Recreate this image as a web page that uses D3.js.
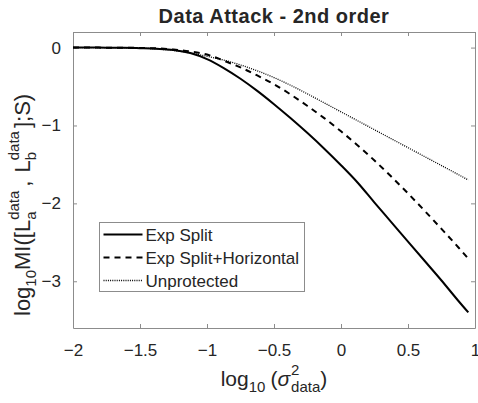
<!DOCTYPE html>
<html>
<head>
<meta charset="utf-8">
<script src="https://cdn.jsdelivr.net/npm/d3@7"></script>
<style>
  body { margin: 0; background: #fff; }
  text { font-family: "Liberation Sans", Arial, sans-serif; fill: #262626; }
</style>
</head>
<body>
<svg></svg>
<script>
var width = 478;
var height = 403;

// values
var sigmaLog = [-2, -1.875, -1.75, -1.625, -1.5, -1.375, -1.25, -1.125, -1, -0.875, -0.75, -0.625, -0.5,
  -0.375, -0.25, -0.125, 0, 0.125, 0.25, 0.375, 0.5, 0.625, 0.75, 0.875, 0.95];
var expSplit = [0, 0, -0.001, -0.003, -0.008, -0.015, -0.03, -0.07, -0.148, -0.263, -0.40, -0.556, -0.727,
  -0.908, -1.098, -1.298, -1.51, -1.735, -1.99, -2.24, -2.49, -2.74, -2.99, -3.25, -3.40];
var expSplitHoriz = [0, 0, -0.001, -0.002, -0.005, -0.01, -0.025, -0.05, -0.09, -0.168, -0.255, -0.358, -0.47,
  -0.603, -0.75, -0.906, -1.075, -1.256, -1.45, -1.656, -1.872, -2.097, -2.328, -2.563, -2.71];
var unprotected = [0, 0, -0.001, -0.002, -0.006, -0.018, -0.038, -0.068, -0.112, -0.16, -0.223, -0.298, -0.385,
  -0.485, -0.595, -0.71, -0.825, -0.94, -1.055, -1.17, -1.285, -1.40, -1.515, -1.63, -1.70];
var seriesNames = ['Exp Split', 'Exp Split+Horizontal', 'Unprotected'];
var xTicks = [-2, -1.5, -1, -0.5, 0, 0.5, 1];
var yTicks = [0, -1, -2, -3];

var margin = {top: 32, right: 3, bottom: 75, left: 73};
var w = width - margin.left - margin.right;
var h = height - margin.top - margin.bottom;

var svg = d3.select('svg')
  .attr('width', width)
  .attr('height', height);

var x = d3.scaleLinear().domain([-2, 1]).range([0, w]);
var y = d3.scaleLinear().domain([-3.6, 0.2]).range([h, 0]);

var g = svg.append('g')
  .attr('transform', 'translate(' + margin.left + ',' + margin.top + ')');

var axisColor = '#8c8c8c';

// axes with inward ticks, also on top and right (box on)
var xb = g.append('g').attr('transform', 'translate(0,' + h + ')')
  .call(d3.axisBottom(x).tickValues(xTicks).tickSizeInner(-4).tickSizeOuter(0).tickPadding(16).tickFormat(d3.format('')));
var xt = g.append('g')
  .call(d3.axisTop(x).tickValues(xTicks).tickSizeInner(-4).tickSizeOuter(0).tickFormat(''));
var yl = g.append('g')
  .call(d3.axisLeft(y).tickValues(yTicks).tickSizeInner(-4).tickSizeOuter(0).tickPadding(12).tickFormat(d3.format('')));
var yr = g.append('g').attr('transform', 'translate(' + w + ',0)')
  .call(d3.axisRight(y).tickValues(yTicks).tickSizeInner(-4).tickSizeOuter(0).tickFormat(''));

[xb, xt, yl, yr].forEach(function(a) {
  a.select('.domain').attr('stroke', axisColor);
  a.selectAll('.tick line').attr('stroke', axisColor);
  a.selectAll('.tick text').attr('font-size', 17).attr('fill', '#262626')
    .style('font-family', '"Liberation Sans", Arial, sans-serif');
});
xb.selectAll('.tick text').attr('dy', '0.71em');

var styles = [
  {dash: null, w: 2},
  {dash: '6,5', w: 2},
  {dash: '1,1.2', w: 1.3}
];
var allSeries = [expSplit, expSplitHoriz, unprotected];

var line = d3.line()
  .x(function(d) { return x(d[0]); })
  .y(function(d) { return y(d[1]); })
  .curve(d3.curveMonotoneX);

allSeries.forEach(function(vals, i) {
  g.append('path')
    .datum(sigmaLog.map(function(s, j) { return [s, vals[j]]; }))
    .attr('fill', 'none')
    .attr('stroke', '#000')
    .attr('stroke-width', styles[i].w)
    .attr('stroke-dasharray', styles[i].dash)
    .attr('d', line);
});

// legend
var leg = svg.append('g').attr('transform', 'translate(99.5,222.5)');
leg.append('rect')
  .attr('width', 205).attr('height', 69)
  .attr('fill', '#fff').attr('stroke', axisColor);
seriesNames.forEach(function(name, i) {
  var ly = 12 + i * 23;
  leg.append('line')
    .attr('x1', 4).attr('x2', 43).attr('y1', ly).attr('y2', ly)
    .attr('stroke', '#000')
    .attr('stroke-width', styles[i].w)
    .attr('stroke-dasharray', styles[i].dash);
  leg.append('text')
    .attr('x', 46).attr('y', ly + 6)
    .attr('font-size', 17)
    .text(name);
});

// text with sub/superscripts, parts laid out left to right
function rich(parent, parts, big, small) {
  var cx = 0;
  parts.forEach(function(p) {
    if (p.stack) {
      var a = parent.append('text').attr('x', cx).attr('y', 6).attr('font-size', small).text(p.sub);
      var b = parent.append('text').attr('x', cx).attr('y', -11).attr('font-size', small).text(p.sup);
      cx += Math.max(a.node().getComputedTextLength(), b.node().getComputedTextLength()) + (p.gap || 0);
    } else {
      var t = parent.append('text').attr('x', cx)
        .attr('y', p.sub ? 6 : 0)
        .attr('font-size', p.sub ? small : big)
        .attr('font-style', p.italic ? 'italic' : null)
        .text(p.t);
      cx += t.node().getComputedTextLength() + (p.gap || 0);
    }
  });
  return cx;
}

// title
svg.append('text')
  .attr('x', margin.left + w / 2).attr('y', 23)
  .attr('text-anchor', 'middle')
  .attr('font-size', 20).attr('font-weight', 'bold')
  .style('letter-spacing', '0.5px')
  .attr('fill', '#000')
  .text('Data Attack - 2nd order');

// x label
var xl = svg.append('g');
var xw = rich(xl, [
  {t: 'log'}, {t: '10', sub: true, gap: 5}, {t: '('}, {t: '\u03c3', italic: true, gap: 1},
  {stack: true, sup: '2', sub: 'data'}, {t: ')'}
], 21, 15);
xl.attr('transform', 'translate(' + (margin.left + w / 2 - xw / 2) + ',386)');

// y label
var ylab = svg.append('g');
var yw = rich(ylab, [
  {t: 'log'}, {t: '10', sub: true}, {t: 'MI([L'},
  {stack: true, sub: 'a', sup: 'data', gap: 4}, {t: ',', gap: 8}, {t: 'L'},
  {stack: true, sub: 'b', sup: 'data', gap: 3}, {t: '];S)'}
], 22, 15);
ylab.attr('transform', 'translate(30,316) rotate(-90)');
</script>
</body>
</html>
